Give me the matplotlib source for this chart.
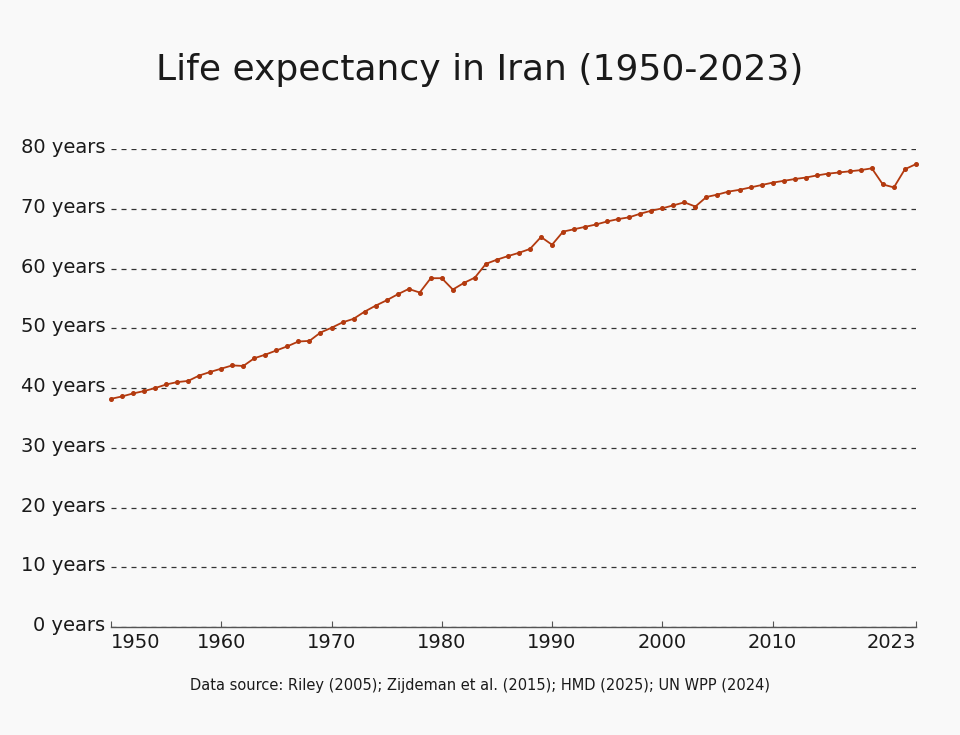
import matplotlib.pyplot as plt
import matplotlib.transforms as mtransforms

# Life expectancy in Iran, 1950-2023
years = list(range(1950, 2024))
life_exp = [
    38.2, 38.6, 39.1, 39.5, 40.0, 40.6, 41.0, 41.2, 42.1, 42.7,
    43.25, 43.8, 43.7, 45.0, 45.6, 46.3, 47.0, 47.8, 47.9, 49.3,
    50.1, 51.0, 51.6, 52.8, 53.8, 54.7, 55.7, 56.6, 56.0, 58.4,
    58.4, 56.5, 57.6, 58.5, 60.8, 61.5, 62.1, 62.65, 63.3, 65.3,
    64.0, 66.2, 66.6, 67.0, 67.4, 67.9, 68.3, 68.6, 69.2, 69.7,
    70.1, 70.6, 71.1, 70.4, 72.0, 72.4, 72.9, 73.2, 73.6, 74.0,
    74.4, 74.7, 75.0, 75.25, 75.6, 75.9, 76.1, 76.3, 76.5, 76.8,
    74.1, 73.6, 76.65, 77.5,
]
xticks = [1950, 1960, 1970, 1980, 1990, 2000, 2010, 2023]
yticks = [0, 10, 20, 30, 40, 50, 60, 70, 80]

bg = '#f9f9f9'
line_color = '#b33a0f'
text_color = '#1a1a1a'

fig = plt.figure(figsize=(9.6, 7.35), dpi=100, facecolor=bg)
ax = fig.add_axes([0.1156, 0.147, 0.8385, 0.65])
ax.set_facecolor(bg)

ax.plot(years, life_exp, color=line_color, linewidth=1.3,
        marker='o', markersize=2.6, clip_on=False, zorder=3)

ax.set_xlim(1950, 2023)
ax.set_ylim(0, 80)

# Dashed horizontal grid
ax.set_yticks(yticks)
ax.set_yticklabels([f'{v} years' for v in yticks])
ax.yaxis.grid(True, color='#333333', linestyle=(0, (4, 4)), linewidth=0.9)
ax.set_axisbelow(True)

ax.set_xticks(xticks)
ax.set_xticklabels([str(y) for y in xticks])
ax.tick_params(axis='x', direction='in', length=4, color='#555555',
               labelsize=14, labelcolor=text_color, pad=4)
ax.tick_params(axis='y', length=0, labelsize=14, labelcolor=text_color, pad=4)

# y labels sit slightly above their gridlines
shift = mtransforms.ScaledTranslation(0, 2.5 / 72, fig.dpi_scale_trans)
for lab in ax.get_yticklabels():
    lab.set_va('center_baseline')
    lab.set_transform(lab.get_transform() + shift)

labels = ax.get_xticklabels()
labels[0].set_ha('left')
labels[-1].set_ha('right')

for side in ['left', 'right', 'top']:
    ax.spines[side].set_visible(False)
ax.spines['bottom'].set_color('#555555')
ax.spines['bottom'].set_linewidth(1.0)

fig.text(0.5, 0.905, 'Life expectancy in Iran (1950-2023)', ha='center',
         va='center', fontsize=26, color=text_color)
fig.text(0.5, 0.067, 'Data source: Riley (2005); Zijdeman et al. (2015); HMD (2025); UN WPP (2024)',
         ha='center', va='center', fontsize=10.5, color=text_color)

fig.savefig('out.png', dpi=100, facecolor=bg)
